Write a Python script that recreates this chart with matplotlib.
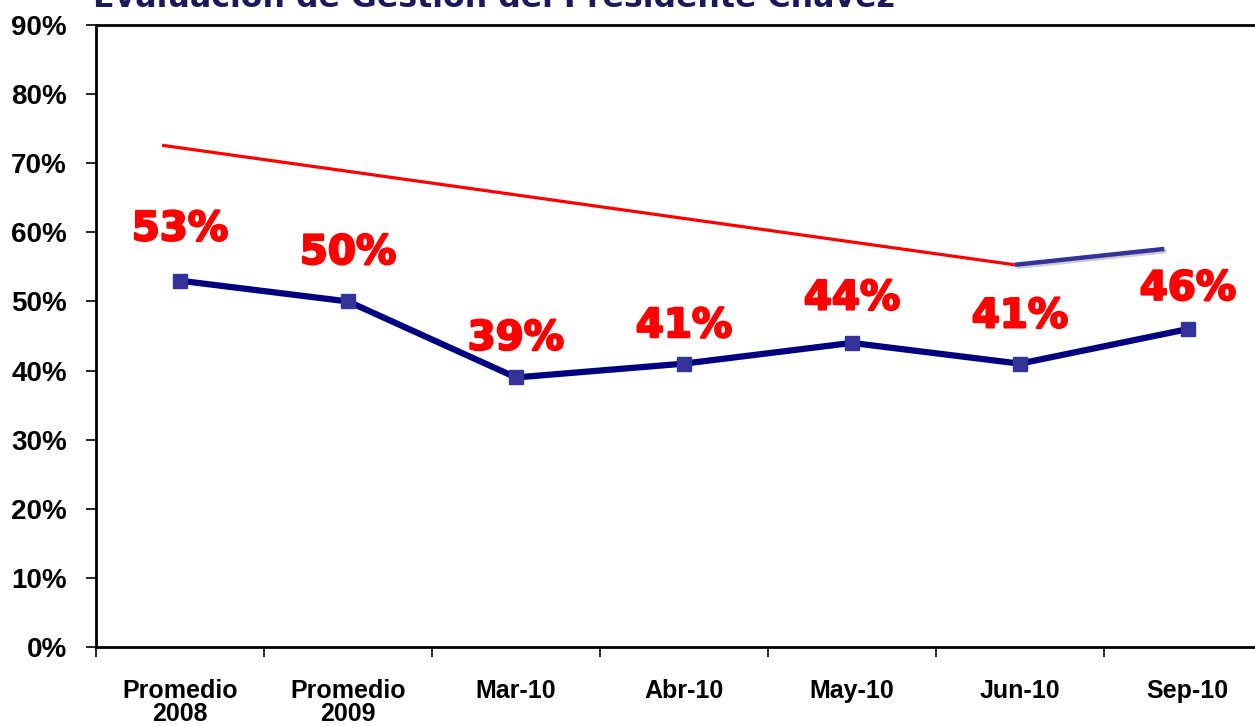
import matplotlib
matplotlib.use("Agg")
import matplotlib.pyplot as plt
import matplotlib.patheffects as pe

# datos
categorias = ['Promedio\n2008', 'Promedio\n2009', 'Mar-10', 'Abr-10', 'May-10', 'Jun-10', 'Sep-10']
gestion = [53, 50, 39, 41, 44, 41, 46]
etiquetas = ['53%', '50%', '39%', '41%', '44%', '41%', '46%']

# lineas de tendencia (decorativas)
tend_roja_x = [-0.107, 4.97]
tend_roja_y = [72.6, 55.3]
tend_azul_x = [4.97, 5.86]
tend_azul_y = [55.3, 57.6]

titulo = 'Evaluación de Gestión del Presidente Chávez'

fig = plt.figure(figsize=(12.55, 7.26), dpi=100)
ax = fig.add_axes([96/1255, 1 - 647/726, 1 - 96/1255, (647 - 25)/726])

x = list(range(len(categorias)))

ax.plot(tend_roja_x, tend_roja_y, color='#FF0000', lw=2.3, solid_capstyle='butt')
ax.plot(tend_azul_x, tend_azul_y, color='#333399', lw=3.2, solid_capstyle='butt',
        path_effects=[pe.SimpleLineShadow(offset=(1.5, -1.5), shadow_color='gray', alpha=0.4), pe.Normal()])

ax.plot(x, gestion, color='#000080', lw=4.5, marker='s', markersize=10,
        markerfacecolor='#333399', markeredgecolor='#333399', zorder=3)

# desplazamiento vertical de cada etiqueta (puntos)
desp = [37, 35, 28, 27, 32, 34, 29]
for xi, yi, t, d in zip(x, gestion, etiquetas, desp):
    ax.annotate(t, (xi, yi), xytext=(0, d), textcoords='offset points',
                ha='center', va='center', color='#FF0000', fontsize=29,
                fontweight='bold', family='DejaVu Sans',
                path_effects=[pe.withStroke(linewidth=1.6, foreground='#FF0000')])

ax.set_ylim(0, 90)
ax.set_xlim(-0.5, 6.4)
ax.set_yticks(range(0, 91, 10))
ax.set_yticklabels([f'{v}%' for v in range(0, 91, 10)], fontsize=20,
                   fontweight='bold', family='Liberation Sans')
ax.set_xticks(x)
ax.set_xticklabels(categorias, fontsize=18, fontweight='bold',
                   family='Liberation Sans', linespacing=0.95)
ax.set_xticks([i - 0.5 for i in range(len(categorias))], minor=True)
ax.tick_params(axis='x', which='major', length=0, pad=23)
ax.tick_params(axis='x', which='minor', length=7, width=1.2, direction='out')
ax.tick_params(axis='y', length=7, width=1.2, direction='out', pad=14)

for s in ['left', 'bottom', 'top']:
    ax.spines[s].set_linewidth(2)
ax.spines['right'].set_visible(False)

fig.text(93/1255, 1 - 7/726, titulo, fontsize=22.8, fontweight='bold',
         color='#1A1A5A', family='DejaVu Sans', ha='left', va='baseline')

fig.savefig('out.png', dpi=100)
